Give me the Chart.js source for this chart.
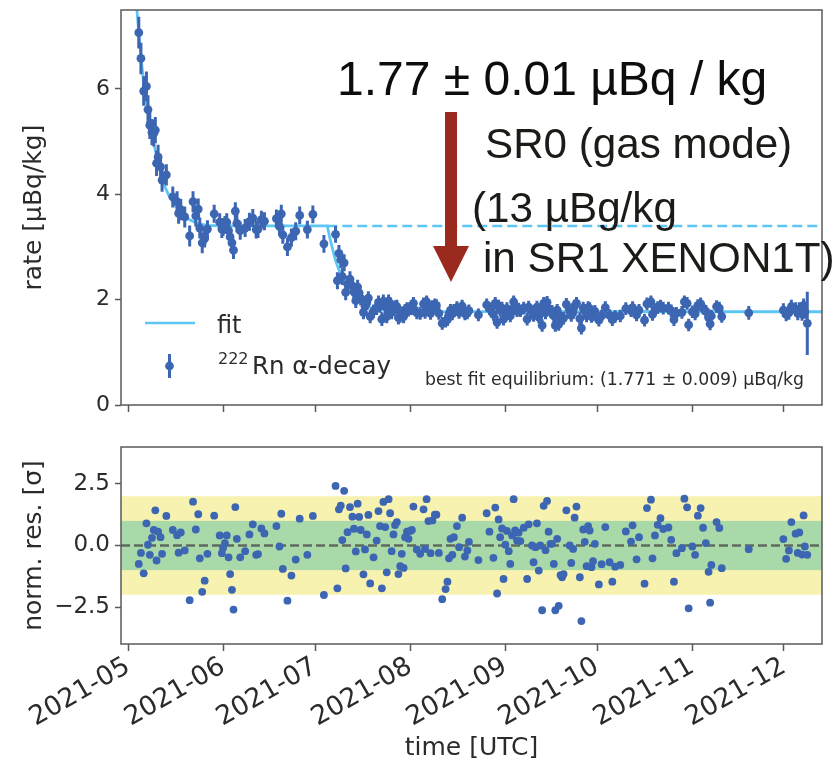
<!DOCTYPE html>
<html>
<head>
<meta charset="utf-8">
<script src="https://cdn.jsdelivr.net/npm/chart.js@4.4.1/dist/chart.umd.min.js"></script>
<style>
  html, body { margin: 0; padding: 0; background: #fff; }
  #wrap { position: relative; width: 836px; height: 759px; }
  canvas { position: absolute; left: 0; }
  #rateCanvas { top: 0; }
  #resCanvas { top: 420px; }
</style>
</head>
<body>
<div id="wrap">
  <canvas id="rateCanvas" width="836" height="420"></canvas>
  <canvas id="resCanvas" width="836" height="339"></canvas>
</div>
<script>
// time axis: days since 2021-05-01 (UTC)
const monthTicks = [0, 31, 61, 92, 123, 153, 184, 214];
const monthLabels = ['2021-05', '2021-06', '2021-07', '2021-08', '2021-09', '2021-10', '2021-11', '2021-12'];
const dayRange = [-2.3, 226.4];

const rateRange = [0, 7.5];
const rateTicks = [0, 2, 4, 6];
const resRange = [-4, 4];
const resTicks = [-2.5, 0, 2.5];
const resTickLabels = ['\u22122.5', '0.0', '2.5'];
const sigmaBands = [2, 1];

// 222Rn alpha-decay rate per run bin
const days = [
  3.5, 4.2, 5.1, 6.0, 6.5, 7.1, 7.8, 8.4, 8.9, 9.3, 9.8, 10.6, 11.1, 12.5, 14.6, 16.0, 16.5, 17.2, 18.5, 20.1,
  21.2, 22.1, 22.9, 23.4, 24.2, 25.0, 25.9, 28.1, 29.9, 30.6, 31.0, 31.6, 32.2, 32.8, 33.3, 33.9, 34.4, 35.0, 35.5, 36.6,
  38.2, 39.6, 40.7, 41.8, 42.4, 43.5, 44.5, 48.4, 49.4, 50.0, 50.5, 52.0, 53.3, 54.7, 56.0, 58.5, 60.3, 63.9,
  67.7, 68.3, 68.8, 69.4, 69.9, 70.5, 71.0, 71.6, 72.4, 73.2, 73.7, 74.3, 74.9, 75.4, 75.9, 76.8, 77.3, 77.9, 78.4, 79.0,
  80.1, 81.1, 81.7, 82.2, 82.8, 83.3, 83.9, 84.4, 85.0, 85.5, 86.0, 86.6, 87.1, 87.7, 88.2, 88.8, 89.3, 89.9,
  90.4, 91.0, 91.5, 92.0, 92.6, 93.1, 94.2, 95.3, 96.4, 96.9, 97.4, 98.0, 98.7, 99.3, 100.1, 100.6, 101.4, 102.5, 103.6, 104.2,
  104.7, 105.2, 105.8, 106.3, 107.3, 108.0, 109.0, 109.9, 110.7, 111.2, 114.3, 117.0, 117.9, 119.2, 119.8, 120.4, 120.9, 121.4, 122.0, 122.5,
  123.1, 123.6, 124.2, 124.7, 125.3, 125.8, 126.3, 126.9, 127.4, 128.0, 129.1, 130.2, 130.7, 131.8, 132.3, 132.9, 133.4, 134.0, 134.5, 135.1,
  135.6, 136.2, 136.7, 137.2, 137.8, 138.3, 138.9, 139.4, 140.0, 140.5, 141.1, 141.6, 142.1, 143.0, 144.1, 144.6, 145.2, 145.7, 146.3, 147.4,
  147.9, 148.5, 149.0, 149.6, 150.1, 150.6, 151.2, 151.7, 152.3,
  153.6, 154.5, 155.7, 157.1, 158.0, 158.9, 160.6, 162.4, 164.1, 164.6, 165.9, 166.7, 168.5, 169.3, 170.6, 171.1, 171.9, 172.8, 173.7, 174.6,
  176.3, 177.2, 178.1, 178.9, 180.7, 181.5, 182.4, 182.9, 184.1, 185.0, 185.9, 186.8, 187.6, 188.5, 189.4, 189.9, 190.3, 192.0, 192.9, 193.7,
  202.5, 213.8, 214.7, 215.6, 216.4, 217.8, 218.5, 219.0, 219.9, 220.4, 220.8, 221.6
];
const rate = [
  7.07, 6.58, 5.96, 6.05, 5.61, 5.31, 5.18, 5.16, 5.22, 4.59, 4.71, 4.52, 4.27, 4.37, 3.95, 3.86, 3.64, 3.71, 3.57, 3.21,
  3.86, 3.59, 3.72, 3.36, 3.08, 3.16, 3.34, 3.63, 3.47, 3.34, 3.38, 3.42, 3.47, 3.31, 3.19, 3.08, 2.94, 3.68, 3.45, 3.31,
  3.36, 3.48, 3.55, 3.33, 3.34, 3.52, 3.49, 3.54, 3.39, 3.63, 3.23, 3.00, 3.18, 3.30, 3.60, 3.33, 3.62, 3.06,
  3.24, 2.36, 2.88, 2.76, 2.44, 2.70, 2.14, 2.30, 2.39, 2.26, 2.15, 1.98, 2.24, 2.13, 2.03, 1.76, 1.87, 1.94, 2.03, 1.68,
  1.78, 1.84, 1.95, 1.88, 1.63, 1.97, 1.87, 1.68, 1.97, 1.92, 1.76, 1.83, 1.86, 1.87, 1.66, 1.69, 1.74, 1.68,
  1.80, 1.83, 1.80, 1.83, 1.83, 1.93, 1.75, 1.74, 1.92, 1.76, 1.96, 1.87, 1.74, 1.87, 1.90, 1.89, 1.74, 1.55, 1.59, 1.62,
  1.72, 1.80, 1.73, 1.80, 1.85, 1.76, 1.88, 1.73, 1.75, 1.79, 1.71, 1.90, 1.83, 1.72, 1.93, 1.57, 1.88, 1.80, 1.84, 1.63,
  1.77, 1.83, 1.75, 1.69, 1.81, 1.96, 1.83, 1.79, 1.82, 1.79, 1.84, 1.63, 1.86, 1.77, 1.70, 1.76, 1.86, 1.67, 1.77, 1.51,
  1.93, 1.75, 1.95, 1.83, 1.78, 1.78, 1.69, 1.51, 1.80, 1.53, 1.65, 1.64, 1.65, 1.91, 1.77, 1.70, 1.76, 1.88, 1.93, 1.64,
  1.46, 1.84, 1.79, 1.69, 1.85, 1.83, 1.68, 1.71, 1.78,
  1.61, 1.69, 1.85, 1.70, 1.62, 1.68, 1.69, 1.83, 1.79, 1.85, 1.71, 1.80, 1.61, 1.92, 1.96, 1.72, 1.81, 1.85, 1.88, 1.84,
  1.84, 1.79, 1.62, 1.74, 1.76, 1.96, 1.93, 1.52, 1.77, 1.73, 1.89, 1.92, 1.84, 1.78, 1.66, 1.54, 1.69, 1.87, 1.84, 1.68,
  1.75, 1.80, 1.72, 1.75, 1.87, 1.82, 1.74, 1.82, 1.73, 1.89, 1.77, 1.55
];
const rateErr = [
  0.30, 0.30, 0.28, 0.28, 0.27, 0.26, 0.25, 0.25, 0.25, 0.24, 0.23, 0.22, 0.22, 0.20, 0.20, 0.20, 0.20, 0.20, 0.20, 0.20,
  0.20, 0.20, 0.20, 0.20, 0.20, 0.17, 0.17, 0.17, 0.17, 0.17, 0.17, 0.17, 0.17, 0.17, 0.17, 0.17, 0.17, 0.17, 0.17, 0.17,
  0.17, 0.17, 0.17, 0.17, 0.17, 0.17, 0.17, 0.17, 0.17, 0.17, 0.17, 0.17, 0.17, 0.17, 0.17, 0.17, 0.17, 0.17,
  0.16, 0.16, 0.16, 0.16, 0.16, 0.16, 0.15, 0.15, 0.15, 0.15, 0.14, 0.14, 0.14, 0.14, 0.14, 0.13, 0.13, 0.13, 0.13, 0.13,
  0.13, 0.13, 0.13, 0.13, 0.13, 0.13, 0.13, 0.13, 0.13, 0.13, 0.13, 0.13, 0.13, 0.13, 0.13, 0.13, 0.13, 0.13,
  0.12, 0.12, 0.12, 0.12, 0.12, 0.12, 0.12, 0.12, 0.12, 0.12, 0.12, 0.12, 0.12, 0.12, 0.12, 0.12, 0.12, 0.12, 0.12, 0.12,
  0.12, 0.12, 0.12, 0.12, 0.12, 0.12, 0.12, 0.12, 0.12, 0.12, 0.12, 0.12, 0.12, 0.12, 0.12, 0.12, 0.12, 0.12, 0.12, 0.12,
  0.12, 0.12, 0.12, 0.12, 0.12, 0.12, 0.12, 0.12, 0.12, 0.12, 0.12, 0.12, 0.12, 0.12, 0.12, 0.12, 0.12, 0.12, 0.12, 0.12,
  0.12, 0.12, 0.12, 0.12, 0.12, 0.12, 0.12, 0.12, 0.12, 0.12, 0.12, 0.12, 0.12, 0.12, 0.12, 0.12, 0.12, 0.12, 0.12, 0.12,
  0.12, 0.12, 0.12, 0.12, 0.12, 0.12, 0.12, 0.12, 0.12,
  0.12, 0.12, 0.12, 0.12, 0.12, 0.12, 0.12, 0.12, 0.12, 0.12, 0.12, 0.12, 0.12, 0.12, 0.12, 0.12, 0.12, 0.12, 0.12, 0.12,
  0.12, 0.12, 0.12, 0.12, 0.12, 0.12, 0.12, 0.12, 0.12, 0.12, 0.12, 0.12, 0.12, 0.12, 0.12, 0.12, 0.12, 0.12, 0.12, 0.12,
  0.13, 0.13, 0.13, 0.13, 0.13, 0.13, 0.13, 0.13, 0.13, 0.13, 0.13, 0.60
];
// normalised residuals (data - fit) / error
const normRes = [
  -0.75, -0.30, -1.13, 0.90, 0.03, -0.38, 0.31, 0.63, 1.43, -0.61, 0.56, 0.34, -0.34, 1.20, 0.63, 0.42, -0.29, 0.53, -0.20, -2.22,
  1.78, 0.65, 1.27, -0.52, -1.88, -1.43, -0.34, 1.21, 0.41, -0.31, -0.10, 0.10, 0.41, -0.48, -1.16, -1.80, -2.60, 1.56, 0.27, -0.48,
  -0.23, 0.45, 0.86, -0.38, -0.35, 0.69, 0.49, 0.79, -0.04, 1.29, -0.95, -2.24, -1.22, -0.57, 1.09, -0.38, 1.20, -2.01,
  2.42, -1.74, 1.47, 1.62, 0.22, 2.22, -0.93, 0.54, 1.56, 1.17, 0.68, -0.24, 1.70, 1.16, 0.63, -1.17, -0.16, 0.45, 1.24, -1.54,
  -0.48, 0.20, 1.40, 0.79, -1.74, 1.77, 0.75, -1.09, 1.88, 1.31, -0.23, 0.45, 0.83, 0.95, -1.16, -0.84, -0.34, -0.91,
  0.34, 0.56, 0.27, 0.59, 0.63, 1.58, -0.16, -0.34, 1.47, -0.14, 1.88, 0.99, -0.31, 1.02, 1.25, 1.25, -0.30, -2.18, -1.77, -1.47,
  -0.52, 0.27, -0.38, 0.34, 0.79, -0.07, 1.13, -0.45, -0.20, 0.15, -0.59, 1.31, 0.56, -0.50, 1.54, -1.95, 1.06, 0.34, 0.69, -1.36,
  0.03, 0.59, -0.23, -0.75, 0.41, 1.88, 0.61, 0.20, 0.52, 0.18, 0.72, -1.36, 0.86, 0.00, -0.68, -0.07, 0.90, -1.02, 0.00, -2.63,
  1.61, -0.19, 1.81, 0.56, 0.07, 0.07, -0.75, -2.63, 0.27, -2.45, -1.20, -1.29, -1.16, 1.43, 0.00, -0.71, -0.14, 1.13, 1.58, -1.29,
  -3.07, 0.65, 0.15, -0.84, 0.79, 0.61, -0.88, -0.64, 0.07,
  -1.58, -0.76, 0.75, -0.68, -1.47, -0.86, -0.79, 0.57, 0.16, 0.82, -0.56, 0.34, -1.55, 1.52, 1.86, -0.52, 0.41, 0.84, 1.11, 0.67,
  0.73, 0.23, -1.47, -0.31, -0.11, 1.90, 1.55, -2.55, -0.04, -0.38, 1.21, 1.52, 0.72, 0.10, -1.07, -2.32, -0.79, 0.95, 0.71, -0.92,
  -0.15, 0.26, -0.54, -0.20, 0.95, 0.48, -0.30, 0.53, -0.37, 1.22, -0.04, -0.38
];

// fitted model: decay to the first plateau, then to equilibrium
const fitDays = [2.6, 2.9, 3.5, 4.2, 5.1, 6.2, 7.3, 8.4, 9.5, 10.6, 11.6, 13.3, 14.9, 17.1, 19.3, 22.5, 25.8, 30.0,
  65.0, 66.0, 67.6, 69.2, 71.4, 73.6, 76.8, 80.1, 84.4, 90.0, 226.4];
const fitRate = [7.72, 7.50, 7.07, 6.62, 6.12, 5.66, 5.28, 4.96, 4.68, 4.42, 4.20, 3.98, 3.82, 3.65, 3.54, 3.45, 3.41, 3.40,
  3.40, 3.13, 2.76, 2.50, 2.24, 2.06, 1.91, 1.83, 1.79, 1.775, 1.771];
const plateauDays = [65.0, 226.4];
const plateauRate = [3.40, 3.40];

const blue = '#3c66b2';
const sky = '#5cc6f4';
const frameColor = '#5a5a5a';
const ink = '#2b2b2b';
const titleFont = { family: 'DejaVu Sans', size: 25 };

const pts = (xs, ys) => xs.map((x, i) => ({ x: x, y: ys[i] }));

function timeAxis(showLabels, height) {
  return {
    type: 'linear', min: dayRange[0], max: dayRange[1],
    afterBuildTicks: s => { s.ticks = monthTicks.map(v => ({ value: v })); },
    afterFit: s => { s.height = height; s.paddingLeft = 0; s.paddingRight = 0; },
    grid: { drawOnChartArea: false, drawTicks: true, tickLength: 7, tickWidth: 1.5, tickColor: frameColor },
    border: { display: false },
    ticks: {
      display: showLabels, autoSkip: false, minRotation: 30, maxRotation: 30, padding: 0,
      font: { family: 'DejaVu Sans', size: 26.5 }, color: ink,
      callback: v => monthLabels[monthTicks.indexOf(v)] || ''
    }
  };
}

function valueAxis(range, ticks, labels, title, size) {
  return {
    min: range[0], max: range[1],
    afterBuildTicks: s => { s.ticks = ticks.map(v => ({ value: v })); },
    afterFit: s => { s.width = 121; s.paddingTop = 0; s.paddingBottom = 0; },
    grid: { drawOnChartArea: false, drawTicks: true, tickLength: 6, tickWidth: 1.5, tickColor: frameColor },
    border: { display: false },
    ticks: { font: { family: 'DejaVu Sans', size: size }, color: ink, padding: 5, callback: v => labels[ticks.indexOf(v)] },
    title: { display: true, text: title, font: titleFont, color: ink, padding: { top: 19, bottom: 0 } }
  };
}

// axes box drawn over the data
const frame = {
  id: 'frame',
  afterDatasetsDraw(chart) {
    const { ctx, chartArea: a } = chart;
    ctx.save();
    ctx.strokeStyle = frameColor;
    ctx.lineWidth = 1.5;
    ctx.strokeRect(a.left, a.top, a.right - a.left, a.bottom - a.top);
    ctx.restore();
  }
};

// vertical error bars under the rate markers
const errorBars = {
  id: 'errorBars',
  beforeDatasetDraw(chart, args) {
    if (args.index !== 0) return;
    const { ctx, chartArea: a, scales: { x, y } } = chart;
    ctx.save();
    ctx.beginPath();
    ctx.rect(a.left, a.top, a.right - a.left, a.bottom - a.top);
    ctx.clip();
    ctx.strokeStyle = blue;
    ctx.lineWidth = 3;
    ctx.beginPath();
    days.forEach((d, i) => {
      const px = x.getPixelForValue(d);
      ctx.moveTo(px, y.getPixelForValue(rate[i] - rateErr[i]));
      ctx.lineTo(px, y.getPixelForValue(rate[i] + rateErr[i]));
    });
    ctx.stroke();
    ctx.restore();
  }
};

// legend, result text and arrow
const rateNotes = {
  id: 'rateNotes',
  afterDraw(chart) {
    const { ctx } = chart;
    ctx.save();
    // legend
    ctx.strokeStyle = sky;
    ctx.lineWidth = 2.6;
    ctx.beginPath();
    ctx.moveTo(145, 323);
    ctx.lineTo(195, 323);
    ctx.stroke();
    ctx.strokeStyle = blue;
    ctx.lineWidth = 3;
    ctx.beginPath();
    ctx.moveTo(169.5, 354);
    ctx.lineTo(169.5, 378);
    ctx.stroke();
    ctx.fillStyle = blue;
    ctx.beginPath();
    ctx.arc(169.5, 366, 4.4, 0, Math.PI * 2);
    ctx.fill();
    ctx.fillStyle = ink;
    ctx.textBaseline = 'alphabetic';
    ctx.font = '24px "DejaVu Sans"';
    ctx.fillText('fit', 217, 333);
    ctx.font = '16px "DejaVu Sans"';
    ctx.fillText('222', 218, 364);
    ctx.font = '24.5px "DejaVu Sans"';
    ctx.fillText('Rn \u03b1-decay', 252, 374);
    ctx.font = '17.3px "DejaVu Sans"';
    ctx.fillText('best fit equilibrium: (1.771 \u00b1 0.009) \u00b5Bq/kg', 425, 385);

    // result
    ctx.fillStyle = '#0d0d0d';
    ctx.font = '48px "Liberation Sans"';
    ctx.fillText('1.77 \u00b1 0.01 \u00b5Bq / kg', 337, 95);
    ctx.fillStyle = '#1d1b17';
    ctx.font = '42.2px "Liberation Sans"';
    ctx.fillText('SR0 (gas mode)', 485, 158);
    ctx.fillText('(13 \u00b5Bg/kg', 472, 222);
    ctx.fillText('in SR1 XENON1T)', 483, 272);

    // arrow
    ctx.fillStyle = '#9b2a1e';
    ctx.fillRect(445, 112, 12, 136);
    ctx.beginPath();
    ctx.moveTo(433, 246);
    ctx.lineTo(469, 246);
    ctx.lineTo(451, 282);
    ctx.closePath();
    ctx.fill();
    ctx.restore();
  }
};

new Chart(document.getElementById('rateCanvas'), {
  type: 'scatter',
  data: {
    datasets: [
      { data: pts(days, rate), backgroundColor: blue, borderWidth: 0, pointRadius: 4.4, pointHoverRadius: 4.4, order: 0 },
      { type: 'line', data: pts(fitDays, fitRate), borderColor: sky, borderWidth: 2.8, pointRadius: 0, tension: 0, order: 1 },
      { type: 'line', data: pts(plateauDays, plateauRate), borderColor: sky, borderWidth: 2.6, borderDash: [10, 5], pointRadius: 0, tension: 0, order: 2 }
    ]
  },
  options: {
    responsive: false,
    animation: false,
    events: [],
    layout: { padding: { top: 10, right: 14, left: 0, bottom: 0 } },
    plugins: { legend: { display: false }, tooltip: { enabled: false } },
    scales: {
      x: timeAxis(false, 15),
      y: valueAxis(rateRange, rateTicks, rateTicks.map(String), 'rate [\u00b5Bq/kg]', 22)
    }
  },
  plugins: [errorBars, frame, rateNotes]
});

// +-1 and +-2 sigma bands behind the residuals
const bands = {
  id: 'bands',
  beforeDatasetsDraw(chart) {
    const { ctx, chartArea: a, scales: { y } } = chart;
    ctx.save();
    const fills = ['#f8f2b0', '#a9d8a9'];
    sigmaBands.forEach((s, i) => {
      const top = y.getPixelForValue(s);
      const bottom = y.getPixelForValue(-s);
      ctx.fillStyle = fills[i];
      ctx.fillRect(a.left, top, a.right - a.left, bottom - top);
    });
    ctx.restore();
  }
};

new Chart(document.getElementById('resCanvas'), {
  type: 'scatter',
  data: {
    datasets: [
      { data: pts(days, normRes), backgroundColor: blue, borderWidth: 0, pointRadius: 3.9, pointHoverRadius: 3.9, order: 0 },
      { type: 'line', data: pts(dayRange, [0, 0]), borderColor: 'rgba(70,70,70,0.75)', borderWidth: 2.6, borderDash: [9, 4], pointRadius: 0, order: 1 }
    ]
  },
  options: {
    responsive: false,
    animation: false,
    events: [],
    layout: { padding: { top: 27, right: 14, left: 0, bottom: 0 } },
    plugins: { legend: { display: false }, tooltip: { enabled: false } },
    scales: {
      x: Object.assign(timeAxis(true, 115), {
        title: { display: true, text: 'time [UTC]', font: { family: 'DejaVu Sans', size: 25 }, color: ink, padding: { top: 0, bottom: -4 } }
      }),
      y: valueAxis(resRange, resTicks, resTickLabels, 'norm. res. [\u03c3]', 23)
    }
  },
  plugins: [bands, frame]
});
</script>
</body>
</html>
